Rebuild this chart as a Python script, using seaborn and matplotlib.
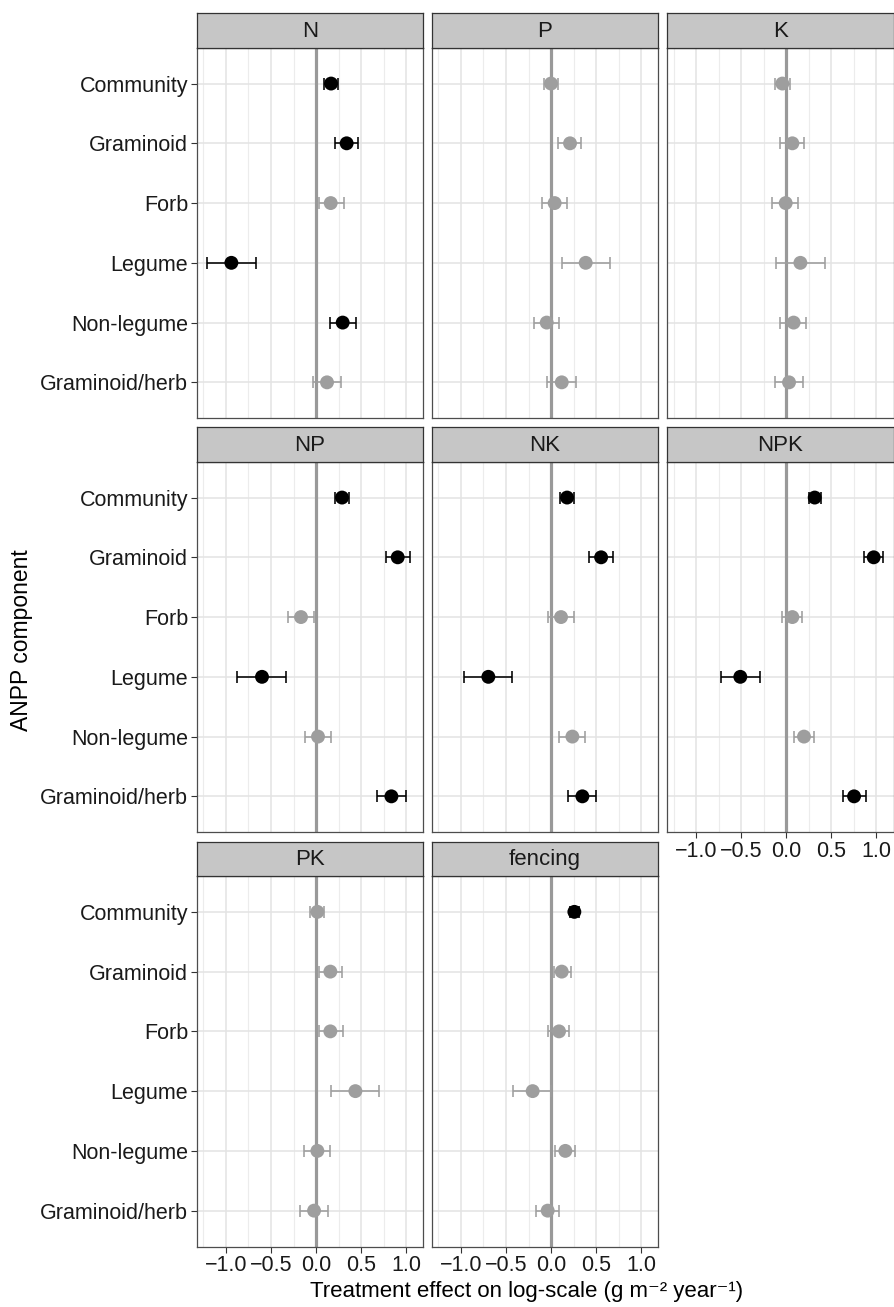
import numpy as np
import pandas as pd
import matplotlib
matplotlib.use("Agg")
import matplotlib.pyplot as plt
import seaborn as sns

categories = ["Community", "Graminoid", "Forb", "Legume", "Non-legume", "Graminoid/herb"]
treatments = ["N", "P", "K", "NP", "NK", "NPK", "PK", "fencing"]

N_mean = [0.167, 0.34, 0.163, -0.94, 0.296, 0.122]
N_low = [0.093, 0.207, 0.03, -1.215, 0.152, -0.037]
N_high = [0.248, 0.47, 0.31, -0.67, 0.44, 0.278]
N_sig = [1, 1, 0, 1, 1, 0]

P_mean = [0.0, 0.211, 0.04, 0.385, -0.048, 0.119]
P_low = [-0.078, 0.078, -0.104, 0.119, -0.189, -0.04]
P_high = [0.074, 0.337, 0.181, 0.659, 0.093, 0.274]
P_sig = [0, 0, 0, 0, 0, 0]

K_mean = [-0.044, 0.067, -0.007, 0.156, 0.081, 0.03]
K_low = [-0.126, -0.067, -0.159, -0.111, -0.067, -0.13]
K_high = [0.037, 0.196, 0.133, 0.43, 0.222, 0.185]
K_sig = [0, 0, 0, 0, 0, 0]

NP_mean = [0.289, 0.907, -0.167, -0.6, 0.022, 0.837]
NP_low = [0.211, 0.774, -0.307, -0.874, -0.122, 0.674]
NP_high = [0.37, 1.044, -0.022, -0.333, 0.167, 0.996]
NP_sig = [1, 1, 0, 1, 0, 1]

NK_mean = [0.178, 0.556, 0.111, -0.696, 0.237, 0.348]
NK_low = [0.096, 0.426, -0.033, -0.967, 0.093, 0.189]
NK_high = [0.259, 0.689, 0.252, -0.43, 0.378, 0.504]
NK_sig = [1, 1, 0, 1, 0, 1]

NPK_mean = [0.315, 0.97, 0.067, -0.511, 0.196, 0.752]
NPK_low = [0.256, 0.867, -0.052, -0.726, 0.081, 0.626]
NPK_high = [0.381, 1.078, 0.178, -0.293, 0.311, 0.881]
NPK_sig = [1, 1, 0, 1, 0, 1]

PK_mean = [0.015, 0.159, 0.159, 0.437, 0.015, -0.022]
PK_low = [-0.063, 0.037, 0.03, 0.163, -0.13, -0.181]
PK_high = [0.089, 0.285, 0.3, 0.7, 0.156, 0.133]
PK_sig = [0, 0, 0, 0, 0, 0]

fencing_mean = [0.259, 0.119, 0.089, -0.204, 0.159, -0.037]
fencing_low = [0.215, 0.03, -0.03, -0.422, 0.044, -0.163]
fencing_high = [0.311, 0.222, 0.204, 0.0, 0.27, 0.093]
fencing_sig = [1, 0, 0, 0, 0, 0]

x_ticks = [-1.0, -0.5, 0.0, 0.5, 1.0]
x_tick_labels = ["\u22121.0", "\u22120.5", "0.0", "0.5", "1.0"]
x_minor = [-1.25, -0.75, -0.25, 0.25, 0.75]

series = {
    "N": (N_mean, N_low, N_high, N_sig),
    "P": (P_mean, P_low, P_high, P_sig),
    "K": (K_mean, K_low, K_high, K_sig),
    "NP": (NP_mean, NP_low, NP_high, NP_sig),
    "NK": (NK_mean, NK_low, NK_high, NK_sig),
    "NPK": (NPK_mean, NPK_low, NPK_high, NPK_sig),
    "PK": (PK_mean, PK_low, PK_high, PK_sig),
    "fencing": (fencing_mean, fencing_low, fencing_high, fencing_sig),
}
rows = []
for t in treatments:
    m, lo, hi, sg = series[t]
    for i, c in enumerate(categories):
        rows.append(dict(treatment=t, component=c, pos=i, mean=m[i], low=lo[i],
                         high=hi[i], sig="sig" if sg[i] else "ns"))
df = pd.DataFrame(rows)

sns.set_theme(style="white")
plt.rcParams["font.family"] = ["Liberation Sans", "DejaVu Sans"]

W, H = 894, 1307
fig = plt.figure(figsize=(W / 100, H / 100), dpi=100)

col_left = [196.7, 431.7, 667.0]
pw = 226.5
row_top = [47.7, 461.7, 876.0]
ph = 370.5
strip_h = 34.4

GRAY = "#9e9e9e"
palette = {"sig": "black", "ns": GRAY}
TXT = "#1a1a1a"
FS = 15.5

for k, t in enumerate(treatments):
    r, c = divmod(k, 3)
    x0 = col_left[c]
    y0 = row_top[r]
    ax = fig.add_axes([x0 / W, 1 - (y0 + ph) / H, pw / W, ph / H])
    sub = df[df.treatment == t]
    ax.set_xlim(-1.325, 1.19)
    ax.set_ylim(len(categories) - 1 + 0.6, -0.6)
    ax.set_xticks(x_ticks)
    ax.set_xticks(x_minor, minor=True)
    ax.set_yticks(range(len(categories)))
    ax.grid(True, which="major", axis="both", color="#e3e3e3", lw=1.1, zorder=0)
    ax.grid(True, which="minor", axis="x", color="#ececec", lw=0.8, zorder=0)
    ax.set_axisbelow(True)
    ax.axvline(0, color="#999999", lw=2.3, zorder=1.5)
    for sg, g in sub.groupby("sig"):
        ax.errorbar(g["mean"], g["pos"], xerr=[g["mean"] - g["low"], g["high"] - g["mean"]],
                    fmt="none", ecolor=palette[sg], elinewidth=1.15, capsize=4.0,
                    capthick=1.15, zorder=2)
    sns.scatterplot(data=sub, x="mean", y="pos", hue="sig", palette=palette,
                    s=100, edgecolor="none", linewidth=0, legend=False, ax=ax, zorder=3)
    ax.set_xlabel("")
    ax.set_ylabel("")
    for sp in ax.spines.values():
        sp.set_color("#4d4d4d")
        sp.set_linewidth(0.9)
    show_x = (r == 2) or (r == 1 and c == 2)
    show_y = (c == 0)
    ax.tick_params(axis="both", which="major", length=4, width=0.8, color="#333333",
                   labelsize=FS, labelcolor=TXT, pad=2)
    ax.tick_params(axis="x", which="minor", length=0)
    ax.tick_params(axis="x", which="major", bottom=show_x, labelbottom=show_x)
    ax.tick_params(axis="y", which="major", left=show_y, labelleft=show_y)
    if show_x:
        ax.set_xticklabels(x_tick_labels)
    if show_y:
        ax.set_yticklabels(categories)
    # strip
    sax = fig.add_axes([x0 / W, 1 - y0 / H, pw / W, strip_h / H])
    sax.set_xticks([])
    sax.set_yticks([])
    sax.set_facecolor("#c6c6c6")
    for sp in sax.spines.values():
        sp.set_color("#333333")
        sp.set_linewidth(0.9)
    sax.text(0.5, 0.47, t, ha="center", va="center", fontsize=16, color=TXT,
             transform=sax.transAxes)

fig.text(527 / W, 1 - 1292 / H, "Treatment effect on log-scale (g m\u207b\u00b2 year\u207b\u00b9)",
         ha="center", va="center", fontsize=16, color="black")
fig.text(22 / W, 1 - 640 / H, "ANPP component", rotation=90, ha="center", va="center",
         fontsize=16.5, color="black")

fig.savefig("out.png", dpi=100, facecolor="white")
